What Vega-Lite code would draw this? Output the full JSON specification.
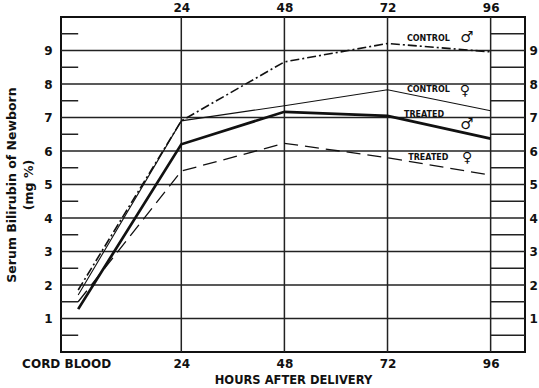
{
  "$schema": "https://vega.github.io/schema/vega-lite/v6.json",
  "width": 464,
  "height": 335,
  "autosize": "none",
  "padding": {"left": 61, "top": 17, "right": 14, "bottom": 36},
  "background": "white",
  "config": {
    "view": {"stroke": "#111", "strokeWidth": 2},
    "axis": {"labelFont": "DejaVu Sans", "labelFontWeight": "bold", "labelFontSize": 12, "labelColor": "#111", "titleFont": "DejaVu Sans", "titleFontWeight": "bold", "titleFontSize": 11.5, "titleColor": "#111", "grid": false, "ticks": false, "domain": false},
    "text": {"font": "DejaVu Sans", "color": "#111"}
  },
  "datasets": {
    "series": [
      {"series": "Control male", "hour": 0, "value": 1.85},
      {"series": "Control male", "hour": 24, "value": 6.9},
      {"series": "Control male", "hour": 48, "value": 8.66},
      {"series": "Control male", "hour": 72, "value": 9.21},
      {"series": "Control male", "hour": 96, "value": 8.96},
      {"series": "Control female", "hour": 0, "value": 1.7},
      {"series": "Control female", "hour": 24, "value": 6.9},
      {"series": "Control female", "hour": 48, "value": 7.35},
      {"series": "Control female", "hour": 72, "value": 7.83},
      {"series": "Control female", "hour": 96, "value": 7.2},
      {"series": "Treated male", "hour": 0, "value": 1.28},
      {"series": "Treated male", "hour": 24, "value": 6.2},
      {"series": "Treated male", "hour": 48, "value": 7.17},
      {"series": "Treated male", "hour": 72, "value": 7.05},
      {"series": "Treated male", "hour": 96, "value": 6.37},
      {"series": "Treated female", "hour": 0, "value": 1.5},
      {"series": "Treated female", "hour": 24, "value": 5.4},
      {"series": "Treated female", "hour": 48, "value": 6.23},
      {"series": "Treated female", "hour": 72, "value": 5.8},
      {"series": "Treated female", "hour": 96, "value": 5.28}
    ],
    "halves": [
      {"v": 0.5}, {"v": 1.5}, {"v": 2.5}, {"v": 3.5}, {"v": 4.5},
      {"v": 5.5}, {"v": 6.5}, {"v": 7.5}, {"v": 8.5}, {"v": 9.5}
    ],
    "integers": [
      {"v": 1}, {"v": 2}, {"v": 3}, {"v": 4}, {"v": 5},
      {"v": 6}, {"v": 7}, {"v": 8}, {"v": 9}
    ],
    "hours": [{"h": 24}, {"h": 48}, {"h": 72}, {"h": 96}],
    "labels": [
      {"text": "CONTROL", "h": 81.5, "v": 9.33, "size": 8},
      {"text": "♂", "h": 90.5, "v": 9.4, "size": 15},
      {"text": "CONTROL", "h": 81.5, "v": 7.82, "size": 8},
      {"text": "♀", "h": 90, "v": 7.8, "size": 14},
      {"text": "TREATED", "h": 80.5, "v": 7.08, "size": 8},
      {"text": "♂", "h": 90.5, "v": 6.8, "size": 15},
      {"text": "TREATED", "h": 81.5, "v": 5.79, "size": 8},
      {"text": "♀", "h": 90.5, "v": 5.78, "size": 14}
    ]
  },
  "resolve": {"axis": {"x": "independent", "y": "independent"}},
  "layer": [
    {
      "data": {"name": "halves"},
      "mark": {"type": "rule", "stroke": "#222", "strokeWidth": 1.5},
      "encoding": {
        "y": {"field": "v", "type": "quantitative", "scale": {"domain": [0, 10], "nice": false, "zero": false}, "axis": null},
        "x": {"datum": -4, "type": "quantitative", "scale": {"domain": [-4, 104], "nice": false, "zero": false}, "axis": null},
        "x2": {"datum": 0}
      }
    },
    {
      "data": {"name": "halves"},
      "mark": {"type": "rule", "stroke": "#222", "strokeWidth": 1.5},
      "encoding": {
        "y": {"field": "v", "type": "quantitative", "scale": {"domain": [0, 10], "nice": false, "zero": false}, "axis": null},
        "x": {"datum": 96, "type": "quantitative", "scale": {"domain": [-4, 104], "nice": false, "zero": false}, "axis": null},
        "x2": {"datum": 104}
      }
    },
    {
      "data": {"name": "integers"},
      "mark": {"type": "rule", "stroke": "#222", "strokeWidth": 1.5},
      "encoding": {
        "y": {"field": "v", "type": "quantitative", "scale": {"domain": [0, 10], "nice": false, "zero": false},
              "axis": {"orient": "right", "values": [1, 2, 3, 4, 5, 6, 7, 8, 9], "labelPadding": 4, "title": null}}
      }
    },
    {
      "data": {"name": "hours"},
      "mark": {"type": "rule", "stroke": "#222", "strokeWidth": 1.5},
      "encoding": {
        "x": {"field": "h", "type": "quantitative", "scale": {"domain": [-4, 104], "nice": false, "zero": false},
              "axis": {"orient": "top", "values": [24, 48, 72, 96], "labelPadding": 3, "title": null}}
      }
    },
    {
      "data": {"name": "series"},
      "transform": [{"filter": "datum.series == 'Control male'"}],
      "mark": {"type": "line", "color": "#111", "strokeWidth": 1.6, "strokeDash": [9, 3, 2, 3], "strokeCap": "butt"},
      "encoding": {
        "x": {"field": "hour", "type": "quantitative", "scale": {"domain": [-4, 104], "nice": false, "zero": false},
              "axis": {"orient": "bottom", "values": [0, 24, 48, 72, 96], "labelExpr": "datum.value == 0 ? 'CORD BLOOD' : datum.label", "labelOffset": {"condition": {"test": "datum.value == 0", "value": -12}, "value": 0}, "labelPadding": 6, "title": "HOURS AFTER DELIVERY", "titlePadding": 5}},
        "y": {"field": "value", "type": "quantitative", "scale": {"domain": [0, 10], "nice": false, "zero": false},
              "axis": {"orient": "left", "values": [1, 2, 3, 4, 5, 6, 7, 8, 9], "labelPadding": 9, "title": ["Serum Bilirubin of Newborn", "(mg %)"], "titleFontSize": 12.5, "titleLineHeight": 17, "titlePadding": 8}}
      }
    },
    {
      "data": {"name": "series"},
      "transform": [{"filter": "datum.series == 'Control female'"}],
      "mark": {"type": "line", "color": "#111", "strokeWidth": 1.1},
      "encoding": {
        "x": {"field": "hour", "type": "quantitative", "scale": {"domain": [-4, 104], "nice": false, "zero": false}, "axis": null},
        "y": {"field": "value", "type": "quantitative", "scale": {"domain": [0, 10], "nice": false, "zero": false}, "axis": null}
      }
    },
    {
      "data": {"name": "series"},
      "transform": [{"filter": "datum.series == 'Treated male'"}],
      "mark": {"type": "line", "color": "#111", "strokeWidth": 2.7},
      "encoding": {
        "x": {"field": "hour", "type": "quantitative", "scale": {"domain": [-4, 104], "nice": false, "zero": false}, "axis": null},
        "y": {"field": "value", "type": "quantitative", "scale": {"domain": [0, 10], "nice": false, "zero": false}, "axis": null}
      }
    },
    {
      "data": {"name": "series"},
      "transform": [{"filter": "datum.series == 'Treated female'"}],
      "mark": {"type": "line", "color": "#111", "strokeWidth": 1.3, "strokeDash": [14, 7], "strokeCap": "butt"},
      "encoding": {
        "x": {"field": "hour", "type": "quantitative", "scale": {"domain": [-4, 104], "nice": false, "zero": false}, "axis": null},
        "y": {"field": "value", "type": "quantitative", "scale": {"domain": [0, 10], "nice": false, "zero": false}, "axis": null}
      }
    },
    {
      "data": {"name": "labels"},
      "mark": {"type": "text", "fontWeight": "bold", "align": "center", "baseline": "middle"},
      "encoding": {
        "x": {"field": "h", "type": "quantitative", "scale": {"domain": [-4, 104], "nice": false, "zero": false}, "axis": null},
        "y": {"field": "v", "type": "quantitative", "scale": {"domain": [0, 10], "nice": false, "zero": false}, "axis": null},
        "text": {"field": "text"},
        "size": {"field": "size", "type": "quantitative", "scale": null, "legend": null}
      }
    }
  ]
}
